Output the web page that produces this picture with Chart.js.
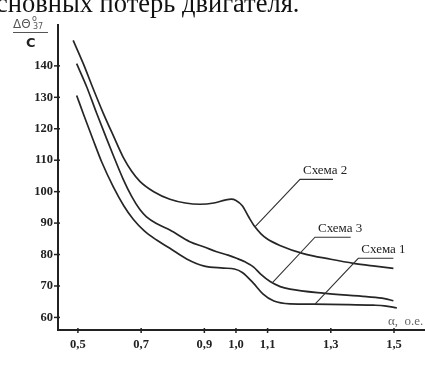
<!DOCTYPE html>
<html>
<head>
<meta charset="utf-8">
<script src="https://cdn.jsdelivr.net/npm/chart.js@4.4.1/dist/chart.umd.min.js"></script>
<style>
  html, body { margin: 0; padding: 0; background: #fff; }
  #wrap { position: relative; width: 425px; height: 365px; }
</style>
</head>
<body>
<div id="wrap"><canvas id="chart"></canvas></div>
<script>
// Значения
const alphaS1 = [0.496, 0.52, 0.548, 0.575, 0.612, 0.645, 0.675, 0.71, 0.749, 0.791, 0.844, 0.9, 0.96, 0.995, 1.02, 1.055, 1.085, 1.12, 1.171, 1.245, 1.35, 1.434, 1.47, 1.509];
const lossS1  = [130.6, 124, 116.5, 109.5, 101.5, 95.5, 91.2, 87.5, 84.6, 82.0, 78.6, 76.3, 75.7, 75.4, 74.3, 70.9, 67.5, 65.2, 64.3, 64.2, 64.1, 63.9, 63.7, 63.0];

const alphaS2 = [0.485, 0.517, 0.548, 0.58, 0.612, 0.643, 0.67, 0.696, 0.74, 0.791, 0.84, 0.886, 0.93, 0.965, 0.985, 1.0, 1.02, 1.04, 1.06, 1.08, 1.097, 1.139, 1.213, 1.3, 1.372, 1.44, 1.498];
const lossS2  = [148.1, 140.7, 132.8, 125, 117.8, 111, 106.5, 103.3, 100, 97.6, 96.4, 96.0, 96.4, 97.3, 97.6, 97.2, 95.5, 92.0, 88.8, 86.5, 85.1, 82.9, 80.3, 78.5, 77.2, 76.3, 75.6];

const alphaS3 = [0.496, 0.528, 0.559, 0.591, 0.612, 0.643, 0.67, 0.696, 0.717, 0.75, 0.791, 0.854, 0.9, 0.939, 0.975, 1.002, 1.03, 1.055, 1.08, 1.108, 1.14, 1.171, 1.276, 1.413, 1.47, 1.498];
const lossS3  = [140.7, 133.3, 125, 116.8, 111.5, 104, 98.5, 94.3, 92.0, 89.8, 87.8, 84.1, 82.4, 80.9, 79.8, 78.8, 77.6, 76.1, 73.6, 71.4, 69.8, 69.0, 67.7, 66.6, 66.0, 65.3];

const xTickValues = [0.5, 0.7, 0.9, 1.0, 1.1, 1.3, 1.5];
const yTickValues = [60, 70, 80, 90, 100, 110, 120, 130, 140];

// Подписи кривых: точка на кривой, начало полки, конец полки (в единицах осей)
const labelNames   = ['Схема 2', 'Схема 3', 'Схема 1'];
const labelTargetA = [1.06, 1.114, 1.25];
const labelTargetV = [88.8, 70.9, 64.2];
const labelShelfA  = [1.2025, 1.25, 1.387];
const labelShelfV  = [103.9, 85.5, 78.8];
const labelShelfEnd = [1.307, 1.363, 1.498];

const toPoints = (xs, ys) => xs.map((x, i) => ({ x, y: ys[i] }));

const curveStyle = {
  borderColor: '#262626',
  borderWidth: 1.7,
  pointRadius: 0,
  fill: false,
  cubicInterpolationMode: 'monotone'
};

const decor = {
  id: 'decor',
  afterDraw(chart) {
    const { ctx, scales: { x, y } } = chart;
    ctx.save();

    // засечки на осях
    ctx.strokeStyle = '#222';
    ctx.lineWidth = 1.5;
    yTickValues.forEach(v => {
      const py = y.getPixelForValue(v);
      ctx.beginPath(); ctx.moveTo(y.right - 4, py); ctx.lineTo(y.right + 2, py); ctx.stroke();
    });
    xTickValues.forEach(v => {
      const px = x.getPixelForValue(v);
      ctx.beginPath(); ctx.moveTo(px, x.top - 2); ctx.lineTo(px, x.top + 3); ctx.stroke();
    });

    // выноски с подписями
    ctx.lineWidth = 1.1;
    ctx.strokeStyle = '#333';
    ctx.fillStyle = '#222';
    ctx.font = '13px "Liberation Serif", "Times New Roman", serif';
    ctx.textBaseline = 'alphabetic';
    labelNames.forEach((name, i) => {
      const tx = x.getPixelForValue(labelTargetA[i]);
      const ty = y.getPixelForValue(labelTargetV[i]);
      const sx = x.getPixelForValue(labelShelfA[i]);
      const sy = y.getPixelForValue(labelShelfV[i]);
      const ex = x.getPixelForValue(labelShelfEnd[i]);
      ctx.beginPath();
      ctx.moveTo(tx, ty);
      ctx.lineTo(sx, sy);
      ctx.lineTo(ex, sy);
      ctx.stroke();
      ctx.fillText(name, sx + 3, sy - 5);
    });

    // подпись оси X
    ctx.fillStyle = '#666';
    ctx.font = '13px "Liberation Serif", serif';
    ctx.fillText('α,  о.е.', 388, 325);

    // подпись оси Y (дробь)
    ctx.fillStyle = '#555';
    ctx.font = '12px "DejaVu Sans", sans-serif';
    ctx.fillText('ΔΘ', 13, 28);
    ctx.font = '8px "DejaVu Sans", sans-serif';
    ctx.fillText('o', 32, 21);
    ctx.fillText('37', 33, 29);
    ctx.strokeStyle = '#555';
    ctx.lineWidth = 1;
    ctx.beginPath(); ctx.moveTo(13, 32.5); ctx.lineTo(48, 32.5); ctx.stroke();
    ctx.fillStyle = '#222';
    ctx.font = 'bold 13px "DejaVu Sans", sans-serif';
    ctx.fillText('C', 26, 47);

    // обрезанная строка текста сверху
    ctx.fillStyle = '#111';
    ctx.font = '26.5px "Liberation Serif", "Times New Roman", serif';
    ctx.fillText('сновных потерь двигателя.', -4, 12);

    ctx.restore();
  }
};

new Chart(document.getElementById('chart'), {
  type: 'line',
  data: {
    datasets: [
      { label: 'Схема 1', data: toPoints(alphaS1, lossS1), ...curveStyle },
      { label: 'Схема 2', data: toPoints(alphaS2, lossS2), ...curveStyle },
      { label: 'Схема 3', data: toPoints(alphaS3, lossS3), ...curveStyle }
    ]
  },
  options: {
    responsive: true,
    maintainAspectRatio: false,
    animation: false,
    events: [],
    layout: { padding: { top: 25, right: 0, left: 0, bottom: 0 } },
    plugins: { legend: { display: false }, tooltip: { enabled: false } },
    scales: {
      x: {
        type: 'linear',
        min: 0.437,
        max: 1.598,
        afterBuildTicks: axis => { axis.ticks = xTickValues.map(value => ({ value })); },
        afterFit: scale => { scale.height = 35; },
        grid: { display: false, drawTicks: false },
        border: { display: true, color: '#222', width: 2 },
        ticks: {
          padding: 7,
          autoSkip: false,
          maxRotation: 0,
          color: '#222',
          font: { family: '"Liberation Serif", serif', size: 12.5, weight: 'bold' },
          callback: v => v.toFixed(1).replace('.', ',')
        }
      },
      y: {
        min: 56,
        max: 153,
        afterBuildTicks: axis => { axis.ticks = yTickValues.map(value => ({ value })); },
        afterFit: scale => { scale.width = 58; },
        grid: { display: false, drawTicks: false },
        border: { display: true, color: '#222', width: 2 },
        ticks: {
          padding: 5,
          color: '#222',
          font: { family: '"Liberation Serif", serif', size: 12.5, weight: 'bold' }
        }
      }
    }
  },
  plugins: [decor]
});
</script>
</body>
</html>
